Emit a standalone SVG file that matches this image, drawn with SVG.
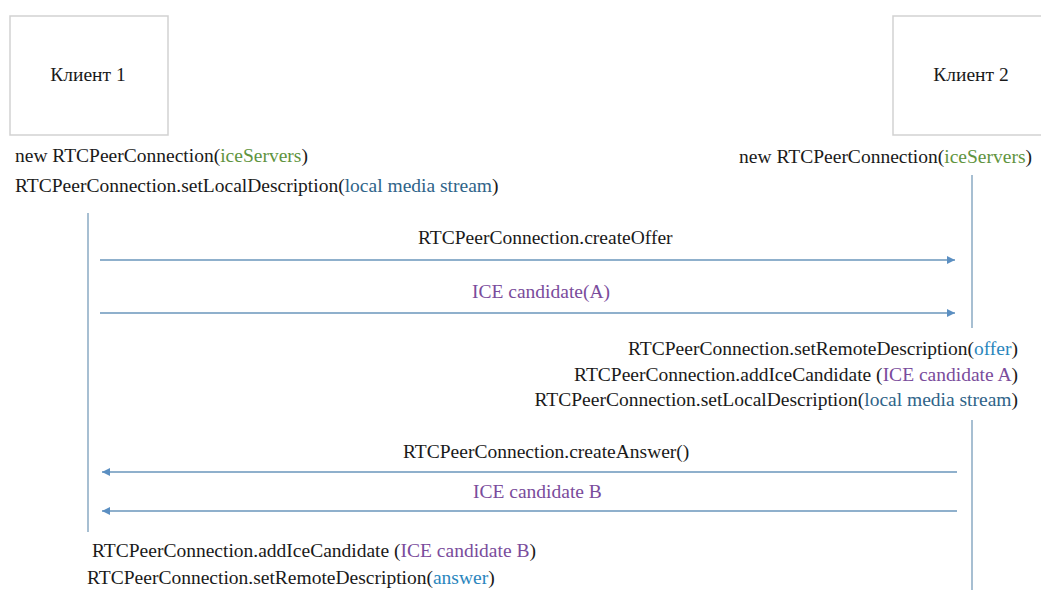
<svg xmlns="http://www.w3.org/2000/svg" width="1041" height="590" viewBox="0 0 1041 590">
<style>
  text { font-family: 'Liberation Serif', serif; font-size: 19.5px; fill: #1a1a1a; }
  .box { fill: #ffffff; stroke: #d2d2d2; stroke-width: 1.5; }
  .life { stroke: #a7bfd2; stroke-width: 2; fill: none; }
  .msg { stroke: #8fb0cc; stroke-width: 2; fill: none; }
  .green { fill: #5f9440; }
  .steel { fill: #2f6489; }
  .blue { fill: #2a86bd; }
  .purple { fill: #7a4c9c; }
  .end { text-anchor: end; }
  .mid { text-anchor: middle; }
</style>
<defs>
  <marker id="ah" viewBox="0 0 10 10" refX="10" refY="5" markerWidth="9" markerHeight="8" markerUnits="userSpaceOnUse" orient="auto">
    <path d="M0,0 L10,5 L0,10 z" fill="#5b8fc2"/>
  </marker>
</defs>
<rect width="1041" height="590" fill="#ffffff"/>

<g id="client1">
  <rect class="box" x="10" y="16" width="158" height="119"/>
  <text class="mid" x="88" y="81">Клиент 1</text>
</g>
<g id="client2">
  <rect class="box" x="893" y="16" width="152" height="119"/>
  <text class="mid" x="971" y="81">Клиент 2</text>
</g>

<g id="client1-setup">
  <text x="15" y="162">new RTCPeerConnection(<tspan class="green">iceServers</tspan>)</text>
  <text x="15" y="192">RTCPeerConnection.setLocalDescription(<tspan class="steel">local media stream</tspan>)</text>
</g>
<g id="client2-setup">
  <text class="end" x="1032" y="163">new RTCPeerConnection(<tspan class="green">iceServers</tspan>)</text>
</g>

<g id="connectors">
  <line class="life" x1="88" y1="213" x2="88" y2="532"/>
  <line class="life" x1="972" y1="175" x2="972" y2="328"/>
  <line class="life" x1="972" y1="420" x2="972" y2="590"/>
  <line class="msg" x1="100" y1="260" x2="955" y2="260" marker-end="url(#ah)"/>
  <line class="msg" x1="100" y1="313" x2="955" y2="313" marker-end="url(#ah)"/>
  <line class="msg" x1="957" y1="472" x2="102" y2="472" marker-end="url(#ah)"/>
  <line class="msg" x1="957" y1="511" x2="102" y2="511" marker-end="url(#ah)"/>
</g>

<g id="msg-labels">
  <text x="418" y="244">RTCPeerConnection.createOffer</text>
  <text class="purple" x="472" y="298">ICE candidate(A)</text>
  <text x="403" y="458">RTCPeerConnection.createAnswer()</text>
  <text class="purple" x="473" y="498">ICE candidate B</text>
</g>

<g id="client2-actions">
  <text class="end" x="1018" y="355">RTCPeerConnection.setRemoteDescription(<tspan class="blue">offer</tspan>)</text>
  <text class="end" x="1018" y="381">RTCPeerConnection.addIceCandidate (<tspan class="purple">ICE candidate A</tspan>)</text>
  <text class="end" x="1018" y="406">RTCPeerConnection.setLocalDescription(<tspan class="steel">local media stream</tspan>)</text>
</g>

<g id="client1-actions">
  <text x="92" y="557">RTCPeerConnection.addIceCandidate (<tspan class="purple">ICE candidate B</tspan>)</text>
  <text x="87" y="584">RTCPeerConnection.setRemoteDescription(<tspan class="blue">answer</tspan>)</text>
</g>
</svg>
